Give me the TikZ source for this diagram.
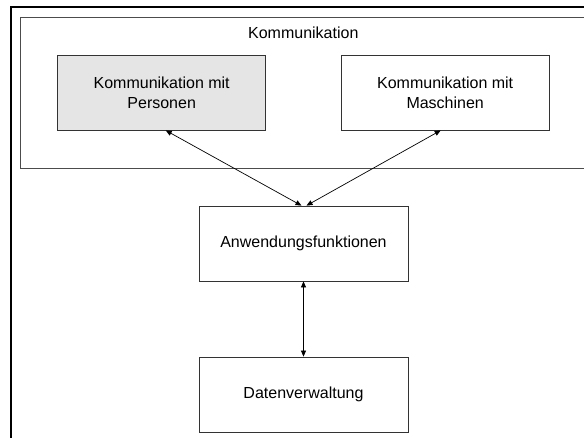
\documentclass[tikz,border=0pt]{standalone}
\usepackage{fontspec}
\setmainfont{Liberation Sans}
\usetikzlibrary{arrows.meta}
\begin{document}
\begin{tikzpicture}[x=1pt,y=-1pt,
  box/.style={draw=black!80, line width=0.8pt, minimum width=208pt, minimum height=75pt, align=center, inner sep=0pt, font=\fontsize{16}{20}\selectfont},
  lbl/.style={font=\fontsize{16}{20}\selectfont, inner sep=0pt},
  conn/.style={line width=0.7pt, {Triangle[length=6pt,width=5pt]}-{Triangle[length=6pt,width=5pt]}}]
\useasboundingbox[fill=white] (0,0) rectangle (584,437);
% outer frame (open on right and bottom)
\coordinate (fbl) at (11,440);
\coordinate (ftl) at (11,7.3);
\coordinate (ftr) at (590,7.3);
\draw[line width=1.8pt] (fbl) -- (ftl) -- (ftr);
% container
\node[draw=black!70, line width=0.8pt, minimum width=580pt, minimum height=151pt, anchor=north west, inner sep=0pt] (komm) at (20,16.7) {};
\node[lbl] (kommlbl) at (303.3,32.5) {Kommunikation};
\node[box, fill=black!10] (lp) at (161.7,92.5) {Kommunikation mit\\Personen};
\node[box] (mp) at (445.2,92.5) {Kommunikation mit\\Maschinen};
\node[box, minimum width=209pt] (an) at (303.5,243.5) {Anwendungsfunktionen};
\node[box, minimum width=209pt] (dv) at (303.5,394.5) {Datenverwaltung};
\draw[conn] ([xshift=4pt]lp.south) -- ([xshift=-2pt]an.north);
\draw[conn] ([xshift=-4.5pt]mp.south) -- ([xshift=3pt]an.north);
\draw[conn] (an.south) -- (dv.north);
\end{tikzpicture}
\end{document}
